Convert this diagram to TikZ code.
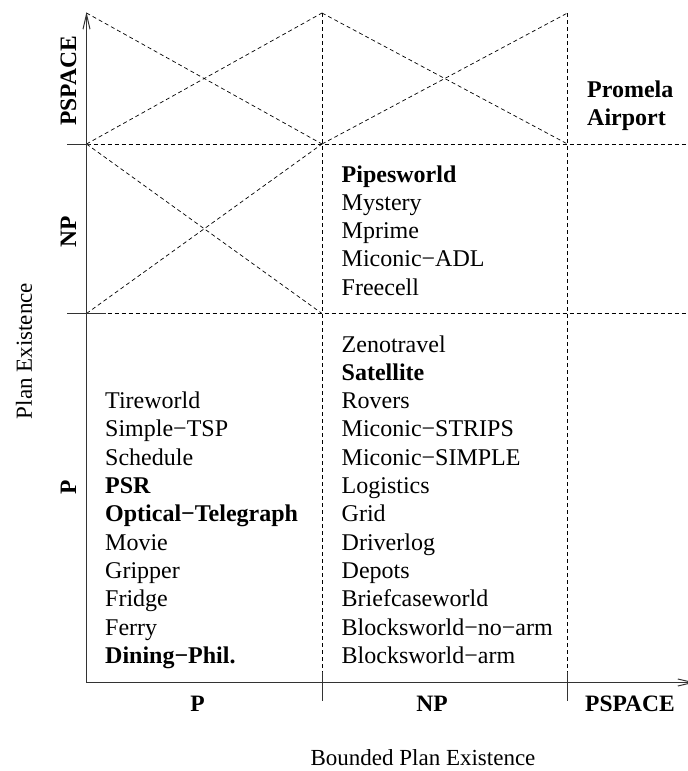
\documentclass[tikz,border=0pt]{standalone}
\usepackage{fontspec}
\setmainfont{Liberation Serif}
\usetikzlibrary{arrows.meta}
\begin{document}
\begin{tikzpicture}[x=1pt,y=-1pt,
  axis/.style={line width=1pt, draw=black!80, -{Straight Barb[length=15pt,width=7pt]}},
  gridline/.style={line width=0.7pt, dash pattern=on 4pt off 3pt},
  tickmark/.style={line width=1pt, draw=black!80},
  item/.style={anchor=base west, inner sep=0pt, font=\fontsize{24}{28}\selectfont},
  bitem/.style={anchor=base west, inner sep=0pt, font=\fontsize{24}{28}\selectfont\bfseries},
  ylab/.style={rotate=90, inner sep=0pt, font=\fontsize{23.5}{28}\selectfont\bfseries},
  xlab/.style={anchor=base, inner sep=0pt, font=\fontsize{23.5}{28}\selectfont\bfseries},
  title/.style={inner sep=0pt, font=\fontsize{23}{28}\selectfont},
]
\useasboundingbox (0,0) rectangle (688,771);

% grid points
\coordinate (O) at (86.5,682.5);
\coordinate (Ytop) at (86.5,12);
\coordinate (Xend) at (695,682.5);
\coordinate (a1) at (86.5,13);
\coordinate (b1) at (322,13);
\coordinate (c1) at (567.5,13);
\coordinate (a2) at (86.5,144);
\coordinate (b2) at (322,144);
\coordinate (c2) at (567.5,144);
\coordinate (a3) at (86.5,313.5);
\coordinate (b3) at (322,313.5);
\coordinate (d2) at (695,144);
\coordinate (d3) at (695,313.5);
\coordinate (bB) at (322,682.5);
\coordinate (cB) at (567.5,682.5);

% dashed grid
\draw[gridline] (b1) -- (bB);
\draw[gridline] (c1) -- (cB);
\draw[gridline] (a2) -- (d2);
\draw[gridline] (a3) -- (d3);
% crosses
\draw[gridline] (a1) -- (b2);
\draw[gridline] (a2) -- (b1);
\draw[gridline] (b1) -- (c2);
\draw[gridline] (b2) -- (c1);
\draw[gridline] (a2) -- (b3);
\draw[gridline] (a3) -- (b2);

% ticks
\coordinate (t1a) at (67,144);   \coordinate (t1b) at (90,144);
\coordinate (t2a) at (67,313.5); \coordinate (t2b) at (106,313.5);
\coordinate (t3a) at (322,672);  \coordinate (t3b) at (322,701);
\coordinate (t4a) at (567.5,672);\coordinate (t4b) at (567.5,701);
\draw[tickmark] (t1a) -- (t1b);
\draw[tickmark] (t2a) -- (t2b);
\draw[tickmark] (t3a) -- (t3b);
\draw[tickmark] (t4a) -- (t4b);

% axes
\draw[axis] (O) -- (Ytop);
\draw[axis] (O) -- (Xend);

% axis labels
\node[ylab] (yPS) at (68.5,81) {PSPACE};
\node[ylab] (yNP) at (68.5,232) {NP};
\node[ylab] (yP)  at (68.5,487) {P};
\node[title, rotate=90] (ytitle) at (24,351) {Plan Existence};
\node[xlab] (xP)  at (197.5,711) {P};
\node[xlab] (xNP) at (432,711) {NP};
\node[xlab] (xPS) at (630,711) {PSPACE};
\node[title, anchor=base] (xtitle) at (423,765.5) {Bounded Plan Existence};

% PSPACE / PSPACE cell
\node[bitem] (promela) at (587,97.5) {Promela};
\node[bitem] (airport) at (587,125) {Airport};

% NP row, NP column
\node[bitem] (pipes) at (341.5,182) {Pipesworld};
\node[item] (mystery) at (341.5,210.3) {Mystery};
\node[item] (mprime) at (341.5,238.5) {Mprime};
\node[item] (madl) at (341.5,266.8) {Miconic−ADL};
\node[item] (freecell) at (341.5,295) {Freecell};

% P row, NP column
\node[item]  (zeno) at (341.5,352) {Zenotravel};
\node[bitem] (sat) at (341.5,380.3) {Satellite};
\node[item]  (rovers) at (341.5,408.6) {Rovers};
\node[item]  (mstrips) at (341.5,436.9) {Miconic−STRIPS};
\node[item]  (msimple) at (341.5,465.2) {Miconic−SIMPLE};
\node[item]  (logistics) at (341.5,493.5) {Logistics};
\node[item]  (grid) at (341.5,521.8) {Grid};
\node[item]  (driverlog) at (341.5,550.1) {Driverlog};
\node[item]  (depots) at (341.5,578.4) {Depots};
\node[item]  (briefcase) at (341.5,606.7) {Briefcaseworld};
\node[item]  (bwnoarm) at (341.5,635) {Blocksworld−no−arm};
\node[item]  (bwarm) at (341.5,663.3) {Blocksworld−arm};

% P row, P column
\node[item]  (tire) at (105,408.6) {Tireworld};
\node[item]  (tsp) at (105,436.9) {Simple−TSP};
\node[item]  (sched) at (105,465.2) {Schedule};
\node[bitem] (psr) at (105,493.5) {PSR};
\node[bitem] (optel) at (105,521.8) {Optical−Telegraph};
\node[item]  (movie) at (105,550.1) {Movie};
\node[item]  (gripper) at (105,578.4) {Gripper};
\node[item]  (fridge) at (105,606.7) {Fridge};
\node[item]  (ferry) at (105,635) {Ferry};
\node[bitem] (dining) at (105,663.3) {Dining−Phil.};
\end{tikzpicture}
\end{document}
